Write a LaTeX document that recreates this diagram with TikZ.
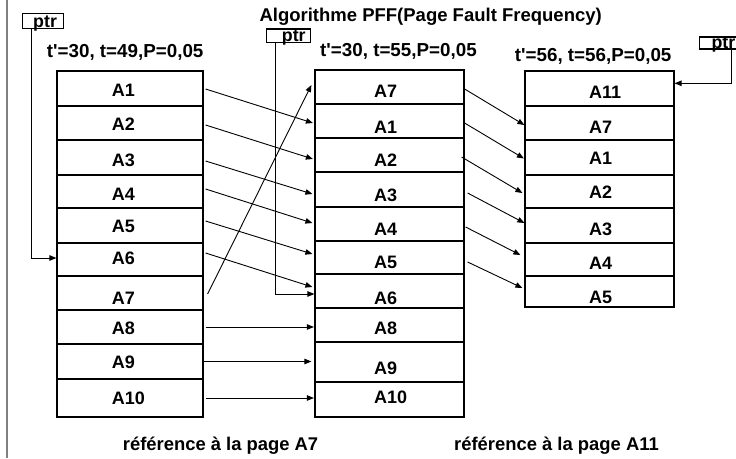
\documentclass[tikz,border=0pt]{standalone}
\usepackage{fontspec}
\setmainfont{Liberation Sans}
% same family without the TeX quote mapping, so ' stays a straight quote
\newfontfamily\plainsans{Liberation Sans}
\usetikzlibrary{arrows.meta}
\begin{document}
\begin{tikzpicture}[x=1pt,y=-1pt,
  cell/.style={draw, line width=1.2pt, inner sep=0pt},
  lbl/.style={font=\fontsize{18}{18}\selectfont\bfseries, inner sep=0pt,
              text height=13pt, text depth=0pt, anchor=west},
  head/.style={font=\plainsans\fontsize{18.8}{20}\selectfont\bfseries, inner sep=0pt, anchor=base west},
  title/.style={font=\fontsize{18.5}{20}\selectfont\bfseries, inner sep=0pt, anchor=base west},
  ptrbox/.style={draw, line width=1.2pt, inner sep=0pt},
  ptrtxt/.style={font=\fontsize{17.8}{18}\selectfont\bfseries, inner sep=0pt, anchor=base west},
  arr/.style={line width=0.9pt, -{Triangle[length=7pt,width=5.5pt]}}
]
\useasboundingbox (0,0) rectangle (736,458);

% frame line on the left
\draw[gray, line width=2pt] (7,0) -- (7,458);

% title
\node[title] (titre) at (259.3,21) {Algorithme PFF(Page Fault Frequency)};

% column headers
\node[head] (h1) at (46.7,57) {t'=30, t=49,P=0,05};
\node[head] (h2) at (320,56) {t'=30, t=55,P=0,05};
\node[head] (h3) at (514.7,61.5) {t'=56, t=56,P=0,05};

% first list of pages
\foreach \t/\b/\lab/\ly [count=\i] in {71/106/A1/90, 106/140/A2/124, 140/175/A3/159.7,
    175/208/A4/193.7, 208/243/A5/226, 243/276/A6/258, 276/310/A7/298,
    310/344/A8/328, 344/379/A9/362, 379/417/A10/397.5} {
  \pgfmathsetmacro\cy{(\t+\b)/2}
  \pgfmathsetmacro\h{\b-\t}
  \node[cell, minimum width=146pt, minimum height=\h pt] (c1-\i) at (130,\cy) {};
  \node[lbl] (t1-\i) at (111.7,\ly) {\lab};
}

% second list of pages
\foreach \t/\b/\lab/\ly [count=\i] in {70/104/A7/90.8, 104/138/A1/127.3, 138/172/A2/159.5,
    172/207/A3/195, 207/241/A4/229, 241/274/A5/261.7, 274/308/A6/297.8,
    308/342/A8/327.8, 342/382/A9/367.8, 382/417/A10/396.7} {
  \pgfmathsetmacro\cy{(\t+\b)/2}
  \pgfmathsetmacro\h{\b-\t}
  \node[cell, minimum width=149pt, minimum height=\h pt] (c2-\i) at (389.5,\cy) {};
  \node[lbl] (t2-\i) at (374,\ly) {\lab};
}

% third list of pages
\foreach \t/\b/\lab/\ly [count=\i] in {71/106/A11/91.7, 106/140/A7/127.3, 140/175/A1/157.8,
    175/208/A2/191.7, 208/243/A3/229, 243/276/A4/263.3, 276/307/A5/297} {
  \pgfmathsetmacro\cy{(\t+\b)/2}
  \pgfmathsetmacro\h{\b-\t}
  \node[cell, minimum width=149pt, minimum height=\h pt] (c3-\i) at (599.5,\cy) {};
  \node[lbl] (t3-\i) at (589,\ly) {\lab};
}

% pointers
\node[ptrbox, minimum width=40.6pt, minimum height=15pt] (ptr1) at (43,20.8) {};
\node[ptrtxt] (p1) at (33,27.3) {ptr};
\node[ptrbox, minimum width=44pt, minimum height=13.7pt] (ptr2) at (288.7,35.85) {};
\node[ptrtxt] (p2) at (281.7,41.7) {ptr};
\node[ptrbox, minimum width=41.7pt, minimum height=12pt] (ptr3) at (720.15,43) {};
\node[ptrtxt] (p3) at (711.3,48) {ptr};

\draw[arr] ([xshift=9.3pt]ptr1.south west) |- ([yshift=1.5pt]c1-6.west);
\draw[arr] ([xshift=9.3pt]ptr2.south west) |- ([yshift=-3pt]c2-7.west);
\draw[arr] ([xshift=-10.3pt]ptr3.south east) |- ([yshift=5.2pt]c3-1.east);

% moves from the first list to the second
\foreach \a/\b/\sx/\sy/\ex/\ey in {1/2/2/-0.5/-1.5/-2, 2/3/2/-2/-1.5/-4,
    3/4/2/-3.5/-2/-4.5, 4/5/2/2.5/-2/1, 5/6/2/4.5/-2/3.5, 6/7/2/6.5/-2/4} {
  \draw[arr] ([xshift=\sx pt, yshift=\sy pt]c1-\a.east) -- ([xshift=\ex pt, yshift=\ey pt]c2-\b.west);
}
\draw[arr] ([xshift=4pt,yshift=-1pt]c1-7.east) -- ([xshift=-3pt,yshift=2pt]c2-1.west);
\draw[arr, shorten >=0.5pt] ([xshift=2pt]c1-8.east) -- (c1-8.east -| c2-8.west);
\draw[arr, shorten >=3pt] ([xshift=-1pt]c1-9.east) -- (c1-9.east -| c2-9.west);
\draw[arr, shorten >=0.5pt] ([xshift=2pt]c1-10.east) -- (c1-10.east -| c2-10.west);

% moves from the second list to the third
\foreach \a/\b/\sx/\sy/\ex/\ey in {1/2/0/-2/0/-2, 2/3/0/-2/-0.5/-1, 3/4/-3/-2/-2/-1.5,
    4/5/3/-3.5/0/2.5, 5/6/1/-3/-4/4.5, 6/7/3/-4.5/-2/3.5} {
  \draw[arr] ([xshift=\sx pt, yshift=\sy pt]c2-\a.east) -- ([xshift=\ex pt, yshift=\ey pt]c3-\b.west);
}

% captions
\node[title, font=\fontsize{18.4}{20}\selectfont\bfseries] (cap1) at (122.7,450) {référence à la page A7};
\node[title, font=\fontsize{18.4}{20}\selectfont\bfseries] (cap2) at (454,450) {référence à la page A11};
\end{tikzpicture}
\end{document}
